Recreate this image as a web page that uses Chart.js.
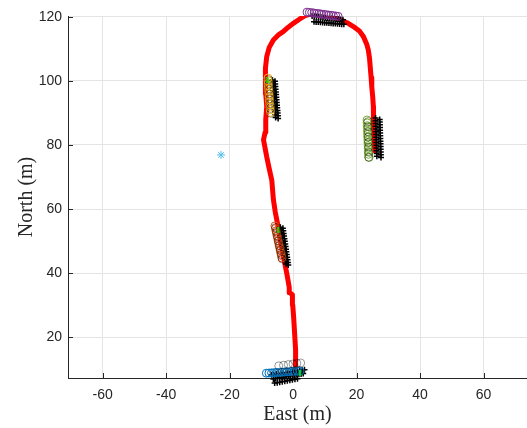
<!DOCTYPE html>
<html>
<head>
<meta charset="utf-8">
<script src="https://cdn.jsdelivr.net/npm/chart.js@4.4.1/dist/chart.umd.min.js"></script>
<style>
  html, body { margin: 0; padding: 0; background: #fff; overflow: hidden; }
  #trackChart { display: block; }
</style>
</head>
<body>
<canvas id="trackChart" width="527" height="428"></canvas>
<script>
// axis ticks
const eastTicks = [-60, -40, -20, 0, 20, 40, 60];
const northTicks = [20, 40, 60, 80, 100, 120];

// driven path (red)
const pathEast = [0.9, 0.9, 0.7, 0.5, 0.2, -0.1, -0.2, -1.0, -1.2, -2.0, -3.0, -4.0, -4.8, -5.6, -6.2, -6.7, -7.6, -8.3, -9.3, -8.8, -8.6, -8.3, -8.6, -8.8, -8.6, -8.3, -7.5, -6.2, -4.5, -3.1, -1.5, 0.1, 2.0, 3.8, 6.0, 9.0, 12.0, 14.8, 17.0, 19.0, 21.0, 22.2, 23.2, 23.7, 24.1, 24.3, 24.6, 24.8, 25.1, 25.3, 25.3, 25.4, 25.6, 25.8];
const pathNorth = [8.9, 11, 16, 21, 26, 30, 33.2, 33.8, 35.5, 40, 45, 50, 55, 59, 63, 69, 73, 76.3, 81.6, 84, 88, 92, 96, 100.3, 104, 107.6, 110.5, 112.8, 114.5, 115.4, 116.8, 118, 119.3, 120.4, 121.0, 120.8, 120.2, 119.2, 118.2, 117, 115.5, 113.8, 111.5, 109.7, 107, 104.5, 101, 98.2, 95, 92, 89, 85, 81, 78.2];

// stop 1 (bottom)
const stop1CircEast = [-8.4, -7.58, -6.77, -5.95, -5.14, -4.32, -3.51, -2.69, -1.88, -1.06, -0.25, 0.57, 1.38, 2.2];
const stop1CircNorth = [8.7, 8.75, 8.81, 8.86, 8.92, 8.97, 9.02, 9.08, 9.13, 9.18, 9.24, 9.29, 9.35, 9.4];
const stop1PlusEast = [
  -6.8, -6.06, -5.31, -4.57, -3.83, -3.09, -2.34, -1.6, -0.86, -0.11, 0.63, 1.37, 2.11, 2.86, 3.6,
  -6.2, -5.53, -4.86, -4.19, -3.51, -2.84, -2.17, -1.5, -0.83, -0.16, 0.51, 1.19, 1.86, 2.53, 3.2,
  -5.8, -5.0, -4.2, -3.4, -2.6, -1.8, -1.0, -0.2, 0.6, 1.4
];
const stop1PlusNorth = [
  8.2, 8.31, 8.43, 8.54, 8.66, 8.77, 8.89, 9.0, 9.11, 9.23, 9.34, 9.46, 9.57, 9.69, 9.8,
  6.9, 7.02, 7.14, 7.26, 7.39, 7.51, 7.63, 7.75, 7.87, 7.99, 8.11, 8.24, 8.36, 8.48, 8.6,
  5.6, 5.75, 5.9, 6.05, 6.2, 6.35, 6.5, 6.65, 6.8, 6.95
];
const stop1RingEast = [-4.5, -3.0, -1.5, 0.0, 1.2, 2.4];
const stop1RingNorth = [11.0, 11.2, 11.4, 11.6, 11.8, 11.9];

// stop 2
const stop2CircEast = [-5.7, -5.53, -5.36, -5.19, -5.02, -4.85, -4.68, -4.52, -4.35, -4.18, -4.01, -3.84, -3.67, -3.5];
const stop2CircNorth = [54.7, 53.93, 53.16, 52.39, 51.62, 50.85, 50.08, 49.32, 48.55, 47.78, 47.01, 46.24, 45.47, 44.7];
const stop2RingEast = [-5.5, -5.2, -4.9, -4.6, -4.3, -4.0, -3.7, -3.4];
const stop2RingNorth = [54.2, 52.8, 51.4, 50.0, 48.6, 47.2, 45.8, 44.4];
const stop2PlusEast = [
  -4.0, -3.87, -3.74, -3.61, -3.49, -3.36, -3.23, -3.1, -2.97, -2.84, -2.71, -2.59, -2.46, -2.33, -2.2,
  -3.2, -3.08, -2.96, -2.84, -2.71, -2.59, -2.47, -2.35, -2.23, -2.11, -1.99, -1.86, -1.74, -1.62, -1.5
];
const stop2PlusNorth = [
  54.3, 53.48, 52.66, 51.84, 51.01, 50.19, 49.37, 48.55, 47.73, 46.91, 46.09, 45.26, 44.44, 43.62, 42.8,
  54.0, 53.18, 52.36, 51.54, 50.71, 49.89, 49.07, 48.25, 47.43, 46.61, 45.79, 44.96, 44.14, 43.32, 42.5
];

// stop 3
const stop3CircEast = [-7.9, -7.84, -7.78, -7.72, -7.65, -7.59, -7.53, -7.47, -7.41, -7.35, -7.28, -7.22, -7.16, -7.1];
const stop3CircNorth = [100.9, 100.08, 99.25, 98.43, 97.61, 96.78, 95.96, 95.14, 94.32, 93.49, 92.67, 91.85, 91.02, 90.2];
const stop3RingEast = [-7.7, -7.6, -7.5, -7.4, -7.3, -7.2, -7.1, -7.0];
const stop3RingNorth = [100.4, 98.9, 97.4, 95.9, 94.4, 92.9, 91.4, 89.9];
const stop3PlusEast = [
  -6.5, -6.43, -6.36, -6.29, -6.21, -6.14, -6.07, -6.0, -5.93, -5.86, -5.79, -5.71, -5.64, -5.57, -5.5,
  -5.7, -5.63, -5.56, -5.49, -5.41, -5.34, -5.27, -5.2, -5.13, -5.06, -4.99, -4.91, -4.84, -4.77, -4.7
];
const stop3PlusNorth = [
  100.3, 99.46, 98.63, 97.79, 96.96, 96.12, 95.29, 94.45, 93.61, 92.78, 91.94, 91.11, 90.27, 89.44, 88.6,
  99.9, 99.07, 98.24, 97.41, 96.59, 95.76, 94.93, 94.1, 93.27, 92.44, 91.61, 90.79, 89.96, 89.13, 88.3
];

// stop 4 (top)
const stop4CircEast = [4.4, 5.15, 5.91, 6.66, 7.42, 8.17, 8.92, 9.68, 10.43, 11.18, 11.94, 12.69, 13.45, 14.2];
const stop4CircNorth = [121.5, 121.4, 121.3, 121.2, 121.1, 121.0, 120.9, 120.8, 120.7, 120.6, 120.5, 120.4, 120.3, 120.2];
const stop4PlusEast = [
  6.0, 6.69, 7.39, 8.08, 8.77, 9.46, 10.16, 10.85, 11.54, 12.24, 12.93, 13.62, 14.31, 15.01, 15.7,
  6.6, 7.27, 7.94, 8.61, 9.29, 9.96, 10.63, 11.3, 11.97, 12.64, 13.31, 13.99, 14.66, 15.33, 16.0
];
const stop4PlusNorth = [
  120.3, 120.21, 120.13, 120.04, 119.96, 119.87, 119.79, 119.7, 119.61, 119.53, 119.44, 119.36, 119.27, 119.19, 119.1,
  118.5, 118.44, 118.39, 118.33, 118.27, 118.21, 118.16, 118.1, 118.04, 117.99, 117.93, 117.87, 117.81, 117.76, 117.7
];

// stop 5 (right)
const stop5CircEast = [23.3, 23.34, 23.38, 23.42, 23.45, 23.49, 23.53, 23.57, 23.61, 23.65, 23.68, 23.72, 23.76, 23.8];
const stop5CircNorth = [87.8, 86.91, 86.02, 85.12, 84.23, 83.34, 82.45, 81.55, 80.66, 79.77, 78.88, 77.98, 77.09, 76.2];
const stop5RingEast = [23.6, 23.65, 23.7, 23.75, 23.8, 23.85, 23.9, 23.95];
const stop5RingNorth = [87.3, 85.7, 84.1, 82.5, 80.9, 79.3, 77.7, 76.1];
const stop5PlusEast = [
  26.0, 26.03, 26.06, 26.09, 26.11, 26.14, 26.17, 26.2, 26.23, 26.26, 26.29, 26.31, 26.34, 26.37, 26.4,
  27.3, 27.33, 27.36, 27.39, 27.41, 27.44, 27.47, 27.5, 27.53, 27.56, 27.59, 27.61, 27.64, 27.67, 27.7
];
const stop5PlusNorth = [
  88.4, 87.55, 86.7, 85.85, 85.0, 84.15, 83.3, 82.45, 81.6, 80.75, 79.9, 79.05, 78.2, 77.35, 76.5,
  88.0, 87.15, 86.3, 85.45, 84.6, 83.75, 82.9, 82.05, 81.2, 80.35, 79.5, 78.65, 77.8, 76.95, 76.1
];

// heading marks at stop starts
const headEast = [2.2, -4.7, -8.0];
const headNorth = [8.8, 53.4, 100.2];

// reference point
const refEast = [-22.7];
const refNorth = [76.9];

const zip = (xs, ys) => xs.map((x, i) => ({ x: x, y: ys[i] }));

function circles(xs, ys, color) {
  return {
    data: zip(xs, ys),
    pointStyle: 'circle',
    pointRadius: 4,
    borderColor: color,
    backgroundColor: 'rgba(0,0,0,0)',
    borderWidth: 1,
    showLine: false,
    clip: false
  };
}

function pluses(xs, ys) {
  return {
    data: zip(xs, ys),
    pointStyle: 'cross',
    pointRadius: 3,
    borderColor: '#000',
    borderWidth: 1.5,
    showLine: false,
    clip: false
  };
}

// let the plot run right to the canvas edge (no right-hand axis)
const fullWidth = {
  id: 'fullWidth',
  afterLayout(chart) {
    const xs = chart.scales.x;
    const edge = chart.width;
    if (chart.chartArea.right < edge) {
      chart.chartArea.right = edge;
      chart.chartArea.width = edge - chart.chartArea.left;
      xs.right = edge;
      xs.width = edge - xs.left;
      xs.configure();
    }
  }
};

// inward tick marks like the classic plot look
const innerTicks = {
  id: 'innerTicks',
  afterDraw(chart) {
    const { ctx, chartArea } = chart;
    const xs = chart.scales.x, ys = chart.scales.y;
    ctx.save();
    ctx.strokeStyle = '#262626';
    ctx.lineWidth = 1;
    ctx.beginPath();
    eastTicks.forEach(v => {
      const px = Math.round(xs.getPixelForValue(v)) + 0.5;
      ctx.moveTo(px, chartArea.bottom);
      ctx.lineTo(px, chartArea.bottom - 5);
    });
    northTicks.forEach(v => {
      const py = Math.round(ys.getPixelForValue(v)) + 0.5;
      ctx.moveTo(chartArea.left, py);
      ctx.lineTo(chartArea.left + 5, py);
    });
    ctx.stroke();
    ctx.restore();
  }
};

const gridColor = '#e4e4e4';
const textColor = '#262626';
const ringColor = 'rgba(0,0,0,0.4)';

new Chart(document.getElementById('trackChart'), {
  type: 'scatter',
  data: {
    datasets: [
      { data: zip(refEast, refNorth), pointStyle: 'star', pointRadius: 4, borderColor: '#4DBEEE', borderWidth: 1, showLine: false },
      { data: zip(headEast, headNorth), pointStyle: 'line', rotation: 90, pointRadius: 3, borderColor: '#00e000', borderWidth: 2, showLine: false, clip: false },
      circles(stop1RingEast, stop1RingNorth, ringColor),
      circles(stop2RingEast, stop2RingNorth, ringColor),
      circles(stop3RingEast, stop3RingNorth, ringColor),
      circles(stop5RingEast, stop5RingNorth, ringColor),
      circles(stop1CircEast, stop1CircNorth, '#0072BD'),
      circles(stop2CircEast, stop2CircNorth, '#D95319'),
      circles(stop3CircEast, stop3CircNorth, '#EDB120'),
      circles(stop4CircEast, stop4CircNorth, '#7E2F8E'),
      circles(stop5CircEast, stop5CircNorth, '#77AC30'),
      pluses(stop1PlusEast, stop1PlusNorth),
      pluses(stop2PlusEast, stop2PlusNorth),
      pluses(stop3PlusEast, stop3PlusNorth),
      pluses(stop4PlusEast, stop4PlusNorth),
      pluses(stop5PlusEast, stop5PlusNorth),
      {
        data: zip(pathEast, pathNorth),
        showLine: true,
        borderColor: '#ff0000',
        borderWidth: 5,
        pointRadius: 0,
        tension: 0,
        borderJoinStyle: 'round',
        borderCapStyle: 'round'
      }
    ]
  },
  options: {
    responsive: false,
    animation: false,
    events: [],
    layout: { padding: { top: 16, right: 0, bottom: 0, left: 0 } },
    plugins: { legend: { display: false }, tooltip: { enabled: false } },
    scales: {
      x: {
        type: 'linear',
        min: -70.9,
        max: 73.7,
        afterBuildTicks: s => { s.ticks = eastTicks.map(v => ({ value: v })); },
        afterFit: s => { s.height = 50; s.paddingLeft = 0; s.paddingRight = 0; },
        grid: { color: gridColor, drawTicks: false },
        border: { display: true, color: textColor, width: 1 },
        ticks: { color: textColor, padding: 9, font: { family: 'Liberation Sans, Arial', size: 14 } },
        title: {
          display: true,
          text: 'East (m)',
          color: textColor,
          padding: { top: 0, bottom: 1 },
          font: { family: 'Liberation Serif, Times New Roman', size: 20 }
        }
      },
      y: {
        type: 'linear',
        min: 7.2,
        max: 120.3,
        afterBuildTicks: s => { s.ticks = northTicks.map(v => ({ value: v })); },
        afterFit: s => { s.width = 68; s.paddingTop = 0; s.paddingBottom = 0; },
        grid: { color: gridColor, drawTicks: false },
        border: { display: true, color: textColor, width: 1 },
        ticks: { color: textColor, padding: 6, font: { family: 'Liberation Sans, Arial', size: 14 } },
        title: {
          display: true,
          text: 'North (m)',
          color: textColor,
          padding: { top: 15, bottom: 0 },
          font: { family: 'Liberation Serif, Times New Roman', size: 20 }
        }
      }
    }
  },
  plugins: [fullWidth, innerTicks]
});
</script>
</body>
</html>
